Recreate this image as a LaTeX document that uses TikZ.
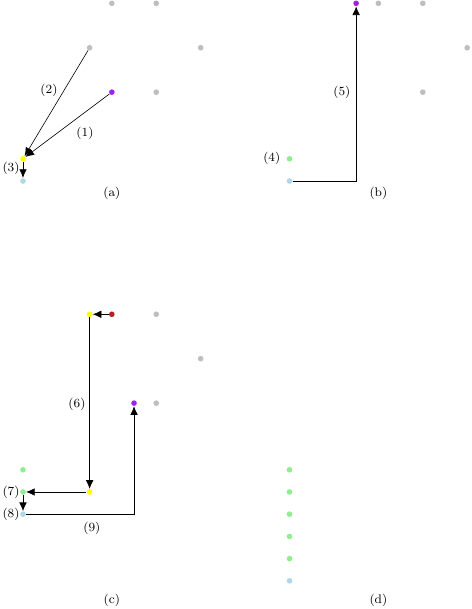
\documentclass[tikz,border=0pt]{standalone}
\usepackage{amssymb, amsmath}
\usetikzlibrary{arrows.meta}
\definecolor{ptgray}{HTML}{BEBEBE}
\definecolor{ptpurple}{HTML}{A020F0}
\definecolor{ptgreen}{HTML}{90EE90}
\definecolor{ptblue}{HTML}{ADD8E6}
\definecolor{ptred}{HTML}{B22222}
\definecolor{ptyellow}{HTML}{FFFF00}

\begin{document}
\begin{tikzpicture}[x=0.5cm,y=0.5cm,
  dot/.style={circle,inner sep=0pt,minimum size=3.6pt},
  mv/.style={-{Latex[length=5.5pt,width=4.8pt]}},
  lbl/.style={font=\footnotesize,inner sep=0pt}]
\useasboundingbox (-1.035,-19.27) rectangle (20.21,8.15);

% (a)
\foreach \x/\y [count=\i] in {4/8,6/8,3/6,8/6,6/4}{
\node[dot,fill=ptgray] (ga\i) at (\x,\y) {};}
\node[dot,fill=ptpurple] (pa) at (4,4) {};
\node[dot,fill=ptyellow] (ya) at (0,1) {};
\node[dot,fill=ptblue] (ba) at (0,0) {};
\draw[mv] (pa) -- (ya);
\draw[mv] (ga3) -- (ya);
\draw[mv] (ya) -- (ba);
\node[lbl] at (2.79,2.16) {(1)};
\node[lbl] at (1.17,4.1) {(2)};
\node[lbl] at (-0.54,0.58) {(3)};
\node[lbl] at (4,-0.54) {(a)};

% (b)
\foreach \x/\y [count=\i] in {16/8,18/8,20/6,18/4}{
\node[dot,fill=ptgray] (gb\i) at (\x,\y) {};}
\node[dot,fill=ptpurple] (pb) at (15,8) {};
\node[dot,fill=ptgreen] (eb) at (12,1) {};
\node[dot,fill=ptblue] (bb) at (12,0) {};
\draw[mv] (bb) -| (pb);
\node[lbl] at (11.2,1) {(4)};
\node[lbl] at (14.36,4) {(5)};
\node[lbl] at (16,-0.54) {(b)};

% (c)
\foreach \x/\y [count=\i] in {6/-6,8/-8,6/-10}{
\node[dot,fill=ptgray] (gc\i) at (\x,\y) {};}
\node[dot,fill=ptyellow] (yc1) at (3,-6) {};
\node[dot,fill=ptred] (rc) at (4,-6) {};
\node[dot,fill=ptpurple] (pc) at (5,-10) {};
\node[dot,fill=ptgreen] (ec1) at (0,-13) {};
\node[dot,fill=ptgreen] (ec2) at (0,-14) {};
\node[dot,fill=ptyellow] (yc2) at (3,-14) {};
\node[dot,fill=ptblue] (bc) at (0,-15) {};
\draw[mv] (rc) -- (yc1);
\draw[mv] (yc1) -- (yc2);
\draw[mv] (yc2) -- (ec2);
\draw[mv] (ec2) -- (bc);
\draw[mv] (bc) -| (pc);
\node[lbl] at (2.43,-10.04) {(6)};
\node[lbl] at (-0.54,-14) {(7)};
\node[lbl] at (-0.54,-15.03) {(8)};
\node[lbl] at (3.1,-15.66) {(9)};
\node[lbl] at (4,-18.86) {(c)};

% (d)
\foreach \y [count=\i] in {-13,-14,-15,-16,-17}{
\node[dot,fill=ptgreen] (ed\i) at (12,\y) {};}
\node[dot,fill=ptblue] (bd) at (12,-18) {};
\node[lbl] at (16,-18.86) {(d)};
\end{tikzpicture}
\end{document}
